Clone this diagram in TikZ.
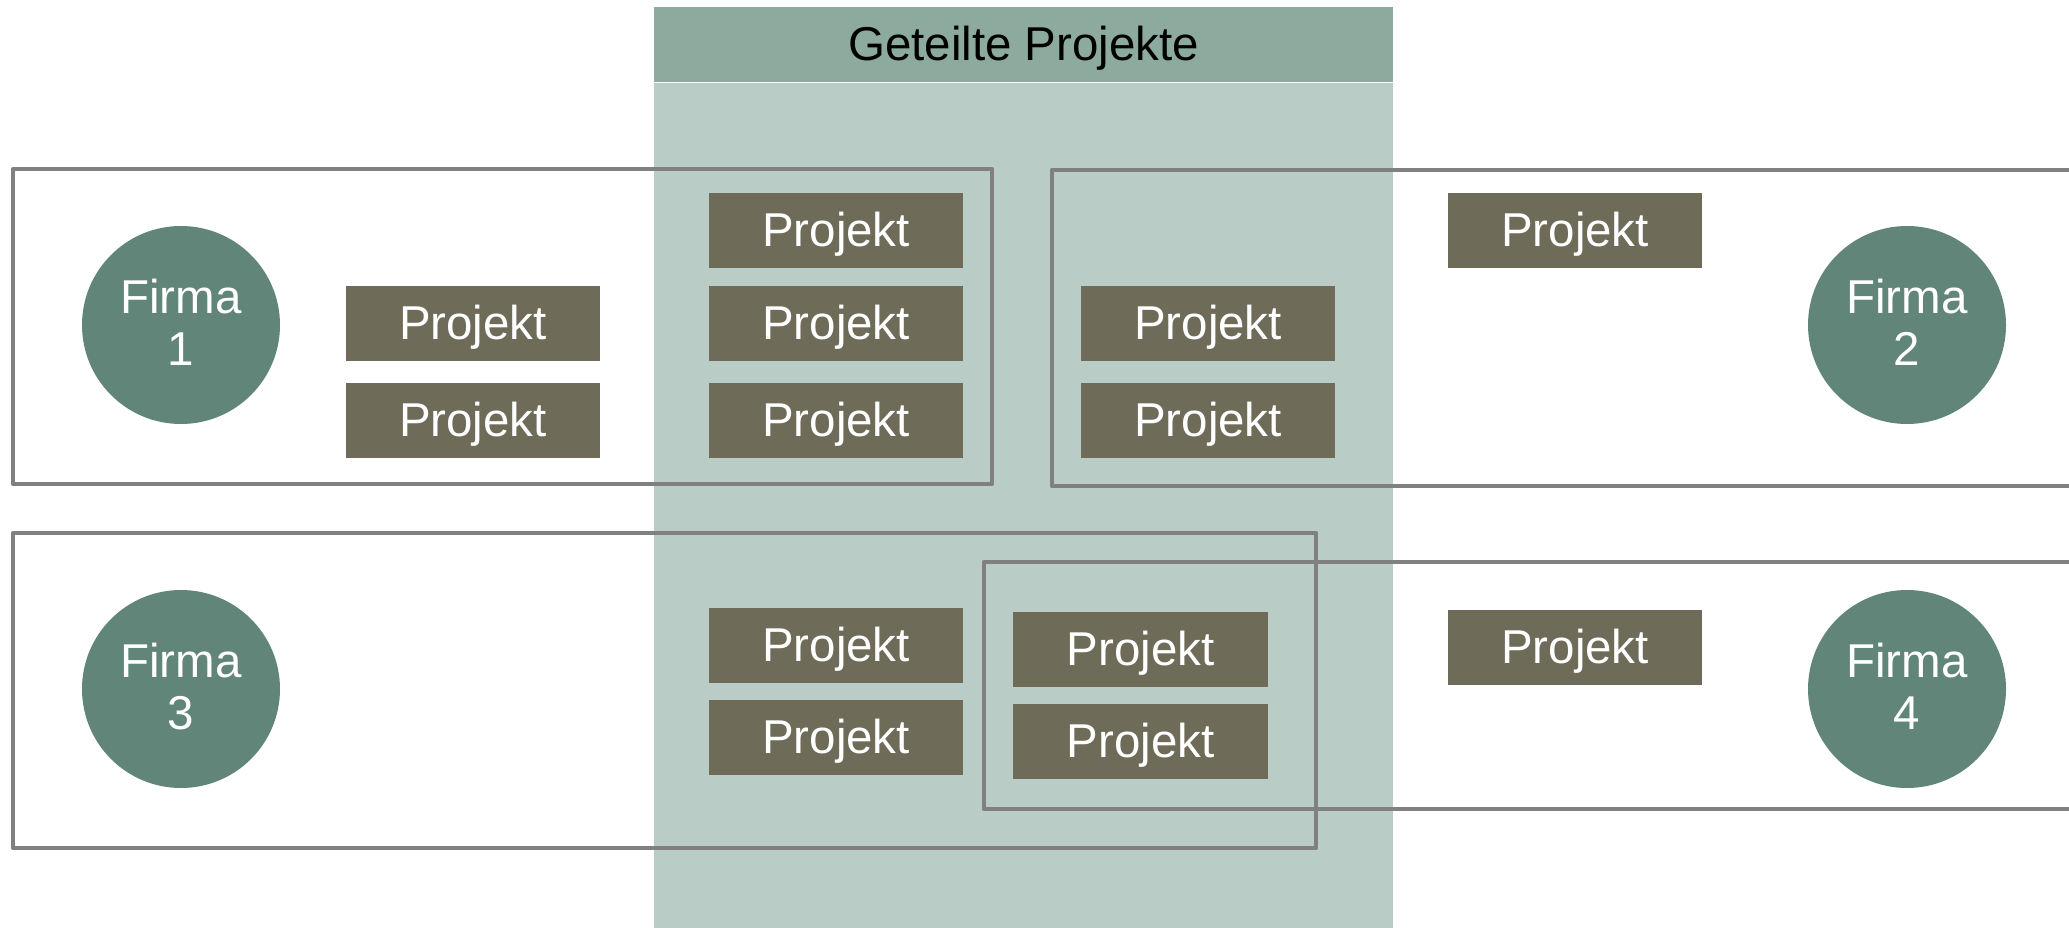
\documentclass[tikz,border=0pt]{standalone}
\usepackage{fontspec}
\setmainfont{Liberation Sans}
\definecolor{hdr}{HTML}{8CAA9E}
\definecolor{panel}{HTML}{B9CCC5}
\definecolor{proj}{HTML}{6E6B58}
\definecolor{firm}{HTML}{62857A}
\definecolor{frame}{HTML}{808080}
\begin{document}
\begin{tikzpicture}[x=1pt,y=-1pt,
  projbox/.style={fill=proj,draw=none,minimum width=254.7pt,minimum height=75pt,inner sep=0pt,
    text=white,font=\fontsize{47.5}{52}\selectfont,text height=38pt,text depth=6pt},
  firmcircle/.style={circle,fill=firm,draw=none,minimum size=198pt,inner sep=0pt,
    text=white,align=center,font=\fontsize{47.5}{52}\selectfont},
  groupframe/.style={draw=frame,line width=4.5pt,line join=round,line cap=round}]
\useasboundingbox (0,0) rectangle (2069,928);
\fill[white] (0,0) rectangle (2069,928);
% shared panel
\fill[panel] (654,83.5) rectangle (1393,928);
\node[fill=hdr,minimum width=739pt,minimum height=75pt,inner sep=0pt,anchor=north west,
  text height=38pt,text depth=6pt,
  font=\fontsize{47.5}{52}\selectfont] (hdr) at (654,7) {Geteilte Projekte};
% group frames
\draw[groupframe] (13,169) rectangle (992,484);
\draw[groupframe] (1052,170) rectangle (2080,486);
\draw[groupframe] (13,533) rectangle (1316,848);
\draw[groupframe] (984,562) rectangle (2080,809);
% companies
\node[firmcircle] (f1) at (181,325) {};
\node[firmcircle] (f2) at (1907,325) {};
\node[firmcircle] (f3) at (181,689) {};
\node[firmcircle] (f4) at (1907,689) {};
\foreach \f/\n in {f1/1,f2/2,f3/3,f4/4}
  \node[text=white,align=center,font=\fontsize{47.5}{52}\selectfont,inner sep=0pt]
    (\f-label) at ([yshift=2.6pt]\f.center) {Firma\\\n};
% projects
\node[projbox] (p1) at (473,323.8) {Projekt};
\node[projbox] (p2) at (473,420.2) {Projekt};
\node[projbox] (s1) at (836,230.1) {Projekt};
\node[projbox] (s2) at (836,323.8) {Projekt};
\node[projbox] (s3) at (836,420.2) {Projekt};
\node[projbox] (s4) at (1208,323.5) {Projekt};
\node[projbox] (s5) at (1208,420.2) {Projekt};
\node[projbox] (r2) at (1575,230.2) {Projekt};
\node[projbox] (b1) at (836,645.3) {Projekt};
\node[projbox] (b2) at (836,737.6) {Projekt};
\node[projbox] (b3) at (1140.7,649.2) {Projekt};
\node[projbox] (b4) at (1140.7,741.6) {Projekt};
\node[projbox] (r4) at (1575,647.9) {Projekt};
\end{tikzpicture}
\end{document}
